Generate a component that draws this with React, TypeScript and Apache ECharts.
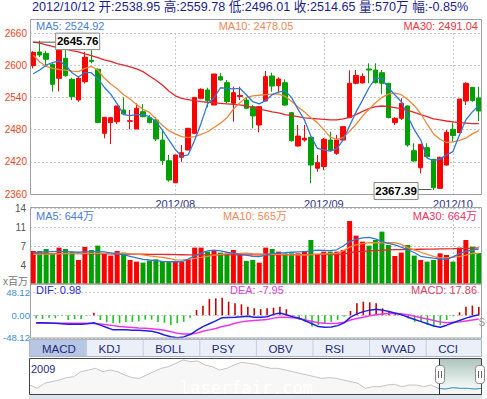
import React, { useEffect, useRef } from 'react';
import * as echarts from 'echarts';

// ---- categories (trading days) ----
const julDays = [2, 3, 4, 5, 6, 9, 10, 11, 12, 13, 16, 17, 18, 19, 20, 23, 24, 25, 26, 27, 30, 31];
const augDays = [1, 2, 3, 6, 7, 8, 9, 10, 13, 14, 15, 16, 17, 20, 21, 22, 23, 24, 27, 28, 29, 30, 31];
const sepDays = [3, 4, 5, 6, 7, 10, 11, 12, 13, 14, 17, 18, 19, 20, 21, 24, 25, 26, 27, 28];
const octDays = [8, 9, 10, 11, 12];

// ---- price (OHLC) ----
const opens = [
  2599.1, 2624.6, 2622.0, 2601.7, 2575.6, 2612.9, 2573.7, 2535.2, 2569.3, 2609.0,
  2592.4, 2473.1, 2493.0, 2494.7, 2516.5, 2495.5, 2481.1, 2513.4, 2502.2, 2497.9,
  2460.6, 2422.0, 2381.0, 2428.4, 2442.0, 2473.0, 2538.3, 2553.8, 2525.8, 2578.6,
  2567.4, 2529.0, 2541.8, 2535.0, 2522.7, 2488.6, 2533.3, 2579.9, 2561.8, 2567.4,
  2511.5, 2449.5, 2460.6, 2465.7, 2408.0, 2411.0, 2460.6, 2435.8, 2460.6, 2502.2,
  2566.3, 2567.0, 2593.0, 2591.0, 2586.0, 2566.3, 2493.0, 2501.1, 2524.0, 2440.7,
  2409.0, 2446.3, 2424.7, 2370.6, 2414.0, 2480.6, 2474.3, 2533.3, 2558.8, 2538.95,
];
const closes = [
  2624.0, 2619.0, 2611.0, 2564.4, 2628.3, 2580.4, 2541.3, 2575.6, 2614.7, 2607.0,
  2493.0, 2503.0, 2502.2, 2524.0, 2509.0, 2496.5, 2519.7, 2504.0, 2493.0, 2462.5,
  2422.0, 2386.0, 2432.7, 2437.0, 2482.4, 2540.0, 2555.0, 2534.0, 2583.6, 2572.4,
  2532.0, 2548.8, 2543.4, 2519.7, 2505.4, 2522.7, 2578.6, 2561.2, 2574.3, 2525.8,
  2459.4, 2468.0, 2463.8, 2414.0, 2418.4, 2462.0, 2442.0, 2460.6, 2485.5, 2566.3,
  2581.0, 2579.0, 2591.0, 2567.4, 2566.3, 2502.2, 2501.1, 2529.0, 2451.3, 2421.5,
  2452.6, 2429.5, 2371.8, 2428.4, 2475.0, 2468.7, 2537.0, 2566.3, 2534.0, 2514.65,
];
const lows = [
  2594.0, 2615.0, 2600.0, 2550.6, 2551.0, 2578.6, 2535.0, 2532.0, 2566.0, 2603.5,
  2492.0, 2463.8, 2453.0, 2490.4, 2507.0, 2480.6, 2481.1, 2503.0, 2491.7, 2458.7,
  2414.0, 2383.0, 2380.0, 2420.0, 2442.0, 2473.0, 2536.5, 2521.5, 2525.8, 2571.0,
  2529.0, 2494.7, 2535.0, 2518.0, 2482.4, 2475.0, 2533.3, 2550.6, 2547.6, 2524.0,
  2457.5, 2448.0, 2457.5, 2380.0, 2401.6, 2404.8, 2439.0, 2433.0, 2460.0, 2502.0,
  2564.4, 2566.0, 2566.3, 2566.0, 2546.0, 2501.0, 2488.6, 2497.9, 2448.0, 2420.0,
  2398.6, 2428.4, 2367.39, 2370.0, 2412.8, 2457.5, 2474.0, 2526.0, 2532.0, 2496.01,
];
const highs = [
  2626.0, 2645.76, 2627.0, 2603.5, 2630.0, 2634.0, 2576.7, 2578.6, 2625.0, 2628.0,
  2594.0, 2503.0, 2502.2, 2524.0, 2540.0, 2516.5, 2529.0, 2527.7, 2507.2, 2503.0,
  2478.0, 2432.7, 2432.7, 2451.3, 2482.4, 2540.0, 2557.0, 2558.0, 2583.6, 2585.0,
  2572.4, 2560.0, 2560.0, 2540.0, 2525.8, 2522.7, 2589.2, 2586.0, 2577.4, 2573.7,
  2512.8, 2488.6, 2488.6, 2466.8, 2432.7, 2464.4, 2476.0, 2470.0, 2485.5, 2590.5,
  2591.0, 2585.0, 2603.5, 2603.5, 2591.0, 2567.0, 2503.0, 2538.3, 2525.0, 2454.5,
  2453.0, 2454.5, 2425.0, 2429.5, 2479.3, 2493.0, 2537.0, 2568.0, 2559.0, 2559.78,
];

// ---- price moving averages ----
const ma5 = [
  2584, 2591, 2600, 2605, 2608, 2600, 2586, 2578, 2586, 2586,
  2575, 2559, 2546, 2528, 2508, 2506, 2508, 2508, 2504, 2495,
  2479, 2461, 2443, 2430, 2433, 2460, 2492, 2528, 2539, 2558,
  2557, 2556, 2557, 2545, 2532, 2528, 2534, 2545, 2550, 2552,
  2540, 2518, 2498, 2468, 2445, 2442, 2440, 2444, 2461, 2487,
  2513, 2535, 2558, 2576, 2575, 2558, 2545, 2532, 2505, 2480,
  2461, 2427, 2422, 2425, 2433, 2439, 2470, 2498, 2513, 2524.92,
];
const ma10 = [
  2619, 2606, 2598, 2594, 2592, 2591, 2589, 2588, 2594, 2598,
  2591, 2576, 2565, 2556, 2545, 2537, 2527, 2518, 2512, 2500,
  2488, 2478, 2472, 2467, 2465, 2467, 2471, 2476, 2484, 2492,
  2502, 2518, 2530, 2540, 2543, 2544, 2545, 2546, 2546, 2542,
  2533, 2522, 2513, 2502, 2493, 2480, 2466, 2462, 2465, 2477,
  2490, 2505, 2518, 2530, 2540, 2546, 2548, 2545, 2536, 2525,
  2510, 2490, 2472, 2462, 2456, 2457, 2460, 2464, 2472, 2478.05,
];
const ma30 = [
  2643, 2641, 2638, 2635, 2632, 2630, 2627, 2625, 2621, 2618,
  2614, 2610, 2607, 2603, 2600, 2597, 2593, 2588, 2580, 2572,
  2563, 2552, 2543, 2538, 2536, 2534, 2532, 2531, 2530, 2529,
  2528, 2527, 2526, 2524, 2521, 2518, 2516, 2513, 2511, 2508,
  2506, 2504, 2502, 2501, 2500, 2499, 2498, 2498, 2500, 2503,
  2508, 2514, 2519, 2523, 2524, 2523, 2521, 2519, 2516, 2512,
  2508, 2504, 2500, 2498, 2496, 2494.5, 2493, 2492, 2491, 2491.04,
];

// ---- volume (百万) ----
const volumes = [
  6.08, 6.08, 6.45, 5.53, 6.70, 6.45, 5.96, 4.43, 6.82, 6.27,
  7.07, 5.65, 5.23, 6.08, 5.78, 4.43, 4.12, 3.93, 4.30, 4.55,
  4.24, 4.24, 4.24, 4.12, 4.61, 6.70, 6.70, 5.96, 6.08, 5.78,
  5.47, 6.27, 5.47, 4.24, 4.43, 3.93, 6.70, 6.45, 5.96, 5.65,
  5.65, 5.65, 6.08, 8.11, 5.34, 5.96, 5.96, 5.96, 6.27, 11.61,
  8.91, 7.80, 7.07, 8.11, 9.65, 7.18, 5.16, 5.78, 7.18, 5.23,
  4.43, 4.12, 4.43, 5.65, 5.34, 4.12, 6.70, 8.11, 6.88, 5.70,
];
const volMa5 = [
  5.77, 5.85, 5.9, 5.95, 6.0, 5.95, 5.9, 5.85, 5.9, 5.95,
  5.95, 5.9, 5.75, 5.55, 5.4, 5.1, 4.8, 4.55, 4.42, 4.3,
  4.15, 4.1, 4.1, 4.1, 4.6, 5.2, 5.7, 6.1, 6.25, 6.1,
  5.85, 5.65, 5.47, 5.3, 5.1, 5.03, 5.3, 5.65, 5.7, 5.77,
  5.85, 5.9, 5.95, 6.1, 6.25, 6.2, 6.15, 6.3, 7.0, 7.8,
  8.2, 8.5, 8.6, 8.3, 7.8, 7.5, 7.2, 6.8, 6.3, 5.8,
  5.1, 4.9, 4.75, 4.65, 4.55, 5.0, 5.6, 6.0, 6.26, 6.44,
];
const volMa10 = [
  5.47, 5.5, 5.52, 5.55, 5.57, 5.6, 5.62, 5.63, 5.65, 5.65,
  5.65, 5.65, 5.65, 5.65, 5.65, 5.6, 5.5, 5.35, 5.2, 5.05,
  4.9, 4.7, 4.45, 4.4, 4.55, 4.73, 4.9, 5.1, 5.3, 5.45,
  5.6, 5.65, 5.65, 5.7, 5.6, 5.55, 5.5, 5.47, 5.45, 5.4,
  5.38, 5.36, 5.34, 5.4, 5.5, 5.55, 5.6, 5.65, 6.1, 6.8,
  7.2, 7.45, 7.6, 7.6, 7.6, 7.6, 7.6, 7.3, 6.7, 6.3,
  5.85, 5.45, 5.1, 4.8, 4.8, 4.95, 5.03, 5.3, 5.65, 5.65,
];
const volMa30 = [
  5.6, 5.6, 5.6, 5.6, 5.6, 5.6, 5.6, 5.58, 5.57, 5.56,
  5.55, 5.55, 5.54, 5.53, 5.52, 5.5, 5.49, 5.48, 5.47, 5.46,
  5.45, 5.43, 5.41, 5.39, 5.37, 5.36, 5.35, 5.35, 5.35, 5.35,
  5.35, 5.35, 5.35, 5.35, 5.35, 5.35, 5.36, 5.37, 5.38, 5.39,
  5.4, 5.41, 5.42, 5.43, 5.44, 5.45, 5.46, 5.47, 5.5, 5.75,
  5.95, 6.02, 6.1, 6.16, 6.22, 6.3, 6.32, 6.34, 6.36, 6.38,
  6.4, 6.42, 6.44, 6.46, 6.48, 6.5, 6.53, 6.57, 6.6, 6.64,
];

// ---- MACD ----
const macdHist = [
  -6.4, -7.8, -5, -6.4, -1, -10, -8, -8, -1, 5.5,
  -10, -15, -17, -17, -14, -14, -12.8, -9.2, -9.2, -14,
  -16, -20.6, -17, -14, -5, 11.4, 20.6, 34.6, 36, 37.5,
  29, 25.5, 23.4, 18.4, 15, 13, 15, 16.3, 18.4, 13,
  -2, -10, -14, -24, -20.6, -17, -14, -10, -3, 9.2,
  25.5, 29, 27.7, 25.5, 15, 7.8, 4.3, 0.5, -6.4, -14,
  -14, -20.6, -24, -20.6, -10, -2, 6.4, 18.4, 20.6, 17.86,
];
const dif = [
  -15.7, -16, -16.5, -17, -18, -19, -19, -19, -18, -16,
  -21, -26, -31, -31, -31, -32, -32, -33, -34, -37,
  -42, -45.5, -47.6, -46, -41, -32, -24, -18, -12, -5,
  -4.5, -4.3, -3, -2, -4.3, -4, -3, 2, 5, 1,
  -3, -6.4, -12, -18, -24, -25.5, -25, -22, -16, -4,
  3, 7.8, 11, 12.8, 11, 8, 4.3, 1, -4, -9,
  -13.5, -18, -22.7, -25.5, -21, -16, -11, -6, -2, 0.98,
];
const dea = [
  -17, -17, -17, -17, -17, -17, -17, -17, -17, -17.5,
  -18.6, -20, -22, -24, -25, -26, -27, -27.7, -28.5, -30,
  -32, -34.8, -38, -40, -40, -38, -34, -31, -28, -24,
  -21, -17, -14, -12, -11, -10, -9, -6, -4, -4,
  -5, -7, -10, -13, -16, -17, -17.5, -17, -15, -10,
  -7, -4, -1, 1, 3, 4, 4.3, 3, 1, -2,
  -5, -8, -11, -14, -16, -15, -14, -12, -10, -7.95,
];

// ---- navigator (2009 onwards) ----
const navValues = [
  2200, 2040, 2280, 2360, 2440, 2552, 2600, 2840, 2920, 3000,
  2840, 2920, 2840, 2680, 2552, 2520, 2680, 2840, 3000, 3080,
  3240, 3400, 3320, 3352, 3160, 3080, 2920, 3000, 3160, 3288,
  3240, 3192, 3080, 3000, 3000, 2920, 2840, 2760, 2680, 2600,
  2520, 2552, 2520, 2440, 2360, 2280, 2040, 2120, 2120, 2200,
  2232, 2120, 2200, 2200, 2120, 2200, 2040, 2008, 2072, 2040,
  2040, 2008, 2040,
];
const navStartLabel = '2009';
const navWindowStart = 56;

// ---- tick labels ----
const priceTicks = [2360, 2420, 2480, 2540, 2600, 2660];
const macdTicks = [-48.12, 0, 48.12];
const tabNames = ['MACD', 'KDJ', 'BOLL', 'PSY', 'OBV', 'RSI', 'WVAD', 'CCI'];
const changeText = '-0.85%';

const FONT = '"Liberation Sans", Arial, "Noto Sans CJK SC", sans-serif';
const UP = '#ff0000';
const DOWN = '#00a000';

const pad = (n: number) => (n < 10 ? '0' + n : '' + n);
const dates: string[] = [
  ...julDays.map((d) => `2012/07/${pad(d)}`),
  ...augDays.map((d) => `2012/08/${pad(d)}`),
  ...sepDays.map((d) => `2012/09/${pad(d)}`),
  ...octDays.map((d) => `2012/10/${pad(d)}`),
];
const monthStarts = dates
  .map((d, i) => (i > 0 && d.slice(0, 7) !== dates[i - 1].slice(0, 7) ? i : -1))
  .filter((i) => i >= 0);
const isMonthStart = (i: number) => monthStarts.indexOf(i) >= 0;

function txt(text: string, x: number, y: number, color: string, size: number, align = 'left', weight = 'normal', family = FONT) {
  return {
    type: 'text',
    x,
    y,
    silent: true,
    z: 100,
    style: {
      text,
      fill: color,
      fontSize: size,
      fontFamily: family,
      fontWeight: weight,
      textAlign: align,
      textVerticalAlign: 'middle',
      align,
      verticalAlign: 'middle',
    },
  };
}
function frame(x: number, y: number, w: number, h: number, stroke: string, fill = 'none', z = 50) {
  return { type: 'rect', silent: true, z, shape: { x, y, width: w, height: h }, style: { fill, stroke, lineWidth: 1 } };
}
function seg(x1: number, y1: number, x2: number, y2: number, stroke: string, z = 60) {
  return { type: 'line', silent: true, z, shape: { x1, y1, x2, y2 }, style: { stroke, lineWidth: 1 } };
}

function buildOption() {
  const lineS = (data: number[], color: string, x: number, width = 1.3) => ({
    type: 'line',
    xAxisIndex: x,
    yAxisIndex: x,
    data,
    symbol: 'none',
    showSymbol: false,
    silent: true,
    z: 5,
    lineStyle: { color, width },
    itemStyle: { color },
  });
  const catAxis = (grid: number, labels: boolean, split: boolean) => ({
    type: 'category',
    gridIndex: grid,
    data: dates,
    boundaryGap: true,
    axisLine: { show: false },
    axisTick: { show: false },
    axisLabel: {
      show: labels,
      interval: (i: number) => isMonthStart(i),
      formatter: (v: string) => v.slice(0, 7),
      color: '#2a358c',
      fontSize: 11,
      margin: 4,
      fontFamily: FONT,
    },
    splitLine: {
      show: split,
      interval: (i: number) => isMonthStart(i),
      alignWithLabel: true,
      lineStyle: { color: '#c9c9c9', type: [2, 2], width: 1 },
    },
  });
  return {
    animation: false,
    backgroundColor: '#ffffff',
    textStyle: { fontFamily: FONT },
    grid: [
      { left: 30, top: 33, width: 452, height: 161 },
      { left: 30, top: 208, width: 452, height: 76 },
      { left: 30, top: 292.7, width: 452, height: 45.2 },
      { left: 30, top: 358, width: 452, height: 36 },
    ],
    xAxis: [
      catAxis(0, true, true),
      catAxis(1, false, true),
      catAxis(2, false, false),
      {
        type: 'category',
        gridIndex: 3,
        data: navValues.map((_, i) => i),
        boundaryGap: false,
        show: false,
      },
    ],
    yAxis: [
      {
        type: 'value',
        gridIndex: 0,
        min: 2360,
        max: 2660,
        axisLine: { show: false },
        axisTick: { show: false, customValues: priceTicks },
        axisLabel: {
          customValues: priceTicks,
          color: '#ee4422',
          fontSize: 10,
          margin: 3,
          fontFamily: FONT,
          formatter: (v: number) => String(Math.round(v)),
        },
        splitLine: { show: true, lineStyle: { color: '#c9c9c9', type: [2, 2] } },
      },
      {
        type: 'value',
        gridIndex: 1,
        min: 0,
        max: 14,
        interval: 3.5,
        axisLine: { show: false },
        axisTick: { show: false },
        axisLabel: {
          color: '#555555',
          fontSize: 10,
          margin: 4,
          fontFamily: FONT,
          formatter: (v: number) => (v === 0 ? '' : String(Math.round(v))),
        },
        splitLine: { show: true, lineStyle: { color: '#c9c9c9', type: [2, 2] } },
      },
      {
        type: 'value',
        gridIndex: 2,
        min: macdTicks[0],
        max: macdTicks[2],
        interval: macdTicks[2],
        axisLine: { show: false },
        axisTick: { show: false },
        axisLabel: {
          color: '#3a8ed8',
          fontSize: 9.5,
          margin: 3,
          fontFamily: FONT,
          formatter: (v: number) => (Math.abs(v) < 1e-6 ? '0.00' : v.toFixed(2)),
        },
        splitLine: { show: true, lineStyle: { color: '#c9c9c9', type: [2, 2] } },
      },
      { type: 'value', gridIndex: 3, min: 1768, max: 3496, show: false, splitLine: { show: false } },
    ],
    series: [
      {
        type: 'candlestick',
        xAxisIndex: 0,
        yAxisIndex: 0,
        barWidth: 5,
        silent: true,
        z: 3,
        data: opens.map((o, i) => [o, closes[i], lows[i], highs[i]]),
        itemStyle: { color: UP, color0: DOWN, borderColor: UP, borderColor0: DOWN, borderWidth: 1 },
      },
      lineS(ma30, '#e8262a', 0),
      lineS(ma10, '#f0883c', 0),
      lineS(ma5, '#2f78d8', 0),
      {
        type: 'bar',
        xAxisIndex: 1,
        yAxisIndex: 1,
        barWidth: 5,
        silent: true,
        z: 3,
        data: volumes.map((v, i) => ({ value: v, itemStyle: { color: closes[i] >= opens[i] ? UP : DOWN } })),
      },
      lineS(volMa30, '#e8262a', 1),
      lineS(volMa10, '#f0883c', 1),
      lineS(volMa5, '#2f78d8', 1),
      {
        type: 'bar',
        xAxisIndex: 2,
        yAxisIndex: 2,
        barWidth: 1.6,
        silent: true,
        z: 3,
        data: macdHist.map((v) => ({ value: v, itemStyle: { color: v >= 0 ? '#c40000' : '#22c322' } })),
      },
      lineS(dea, '#ee33ee', 2, 1.5),
      lineS(dif, '#1f1fe6', 2, 1.5),
      {
        type: 'line',
        xAxisIndex: 3,
        yAxisIndex: 3,
        data: navValues,
        symbol: 'none',
        silent: true,
        lineStyle: { color: '#c4c4c4', width: 1 },
        areaStyle: { color: '#f3f3f3', origin: 'start' },
      },
      {
        type: 'line',
        xAxisIndex: 3,
        yAxisIndex: 3,
        data: navValues.map((v, i) => (i >= navWindowStart ? v : null)),
        symbol: 'none',
        silent: true,
        z: 6,
        lineStyle: { color: '#3f9ad0', width: 1 },
      },
    ],
  };
}

function buildGraphics(hp: number[], lp: number[]) {
  const L = dates.length - 1;
  const g: any[] = [];
  // title
  const title = `${dates[L]} 开:${opens[L].toFixed(2)} 高:${highs[L].toFixed(2)} 低:${lows[L].toFixed(2)} 收:${closes[L].toFixed(2)} 量:${Math.round(volumes[L] * 100)}万 幅:${changeText}`;
  g.push(txt(title, 32, 7, '#1d1d8a', 12.6));
  // main legend
  g.push(txt(`MA5: ${ma5[L].toFixed(2)}`, 36, 25.5, '#4a7ed9', 11));
  g.push(txt(`MA10: ${ma10[L].toFixed(2)}`, 256, 25.5, '#f08a5a', 11, 'center'));
  g.push(txt(`MA30: ${ma30[L].toFixed(2)}`, 478, 25.5, '#ee3344', 11, 'right'));
  // volume legend
  g.push(txt(`MA5: ${Math.round(volMa5[L] * 100)}万`, 36, 215.5, '#4a7ed9', 11));
  g.push(txt(`MA10: ${Math.round(volMa10[L] * 100)}万`, 255, 215.5, '#f08a5a', 11, 'center'));
  g.push(txt(`MA30: ${Math.round(volMa30[L] * 100)}万`, 477, 215.5, '#ee3366', 11, 'right'));
  // macd legend
  g.push(txt(`DIF: ${dif[L].toFixed(2)}`, 36, 290, '#2a2ae0', 11));
  g.push(txt(`DEA: ${dea[L].toFixed(2)}`, 230, 290, '#e040e0', 11));
  g.push(txt(`MACD: ${macdHist[L].toFixed(2)}`, 477, 290, '#d84466', 11, 'right'));
  g.push(txt('x百万', 3, 281.5, '#777777', 10));
  g.push(txt('S', 478.5, 322, '#9a9a9a', 10));
  // frames
  g.push(frame(30.5, 19.5, 451, 175, '#a0a0a0'));
  g.push(frame(30.5, 207.5, 451, 76.5, '#a0a0a0'));
  g.push(frame(30.5, 284, 451, 54, '#a0a0a0'));
  // tabs
  const tabX0 = 29.5;
  const tabW = 56.6;
  g.push(frame(tabX0, 339.5, 452, 17, '#aab4c8', '#eaeff8', 40));
  g.push({ type: 'rect', silent: true, z: 41, shape: { x: 30, y: 340, width: tabW, height: 16 }, style: { fill: '#b7c6e2' } });
  tabNames.forEach((name, i) => {
    const x = tabX0 + i * tabW;
    if (i > 0) g.push(seg(x + 0.5, 340, x + 0.5, 356, '#c4cde0', 42));
    g.push(txt(name, x + 12.5, 348.5, '#1f2a7a', 11.5));
  });
  // navigator
  g.push(frame(29.5, 358.5, 452, 36, '#444444', 'none', 60));
  g.push({
    type: 'rect',
    silent: true,
    z: 1,
    shape: { x: 439, y: 359, width: 42, height: 35 },
    style: {
      fill: new echarts.graphic.LinearGradient(0, 0, 0, 1, [
        { offset: 0, color: '#adc5bd' },
        { offset: 0.75, color: '#eef4f2' },
        { offset: 1, color: '#f6f9f8' },
      ]),
    },
  });
  g.push(seg(439.5, 358.5, 439.5, 394.5, '#333333', 61));
  g.push(seg(439.5, 394.5, 481.5, 394.5, '#333333', 61));
  [435, 475].forEach((hx) => {
    g.push({ type: 'rect', silent: true, z: 70, shape: { x: hx + 0.5, y: 365.5, width: 9, height: 18, r: 3 }, style: { fill: '#ffffff', stroke: '#888888', lineWidth: 1 } });
    g.push(seg(hx + 3.5, 371, hx + 3.5, 378, '#666666', 71));
    g.push(seg(hx + 6.5, 371, hx + 6.5, 378, '#666666', 71));
  });
  g.push(txt(navStartLabel, 31, 369, '#2a2a8a', 11));
  g.push(txt('laserfair.com', 180, 388, 'rgba(255,255,255,0.95)', 17, 'left', 'normal', '"DejaVu Sans Mono", monospace'));
  g.push({ type: 'rect', silent: true, z: 1, shape: { x: 29, y: 395, width: 453, height: 4 }, style: { fill: '#dde3ec' } });
  // max label
  const bw = 44;
  const bh = 16.5;
  const bx = hp[0] + 15.5;
  g.push(seg(hp[0] - 7, hp[1] + 1.5, bx, hp[1] + 1.5, '#555555', 80));
  g.push({ type: 'rect', silent: true, z: 81, shape: { x: bx + 0.5, y: hp[1] - 7.5, width: bw, height: bh }, style: { fill: '#ffffff', stroke: '#888888', lineWidth: 1 } });
  g.push({ ...txt(Math.max(...highs).toFixed(2), bx + 0.5 + bw / 2, hp[1] + 0.8, '#000000', 11.5, 'center', 'bold'), z: 82 });
  // min label
  const lx = lp[0] - 60;
  g.push(seg(lx + bw, lp[1] - 0.5, lp[0] - 2, lp[1] - 0.5, '#555555', 80));
  g.push({ type: 'rect', silent: true, z: 81, shape: { x: lx + 0.5, y: lp[1] - 7.5, width: bw, height: 17 }, style: { fill: '#ffffff', stroke: '#888888', lineWidth: 1 } });
  g.push({ ...txt(Math.min(...lows).toFixed(2), lx + 0.5 + bw / 2, lp[1] + 1.2, '#000000', 11.5, 'center', 'bold'), z: 82 });
  return g;
}

export default function App() {
  const ref = useRef<HTMLDivElement>(null);
  useEffect(() => {
    if (!ref.current) return;
    const chart = echarts.init(ref.current, null, { renderer: 'svg' });
    chart.setOption(buildOption() as any);
    const hiIdx = highs.indexOf(Math.max(...highs));
    const loIdx = lows.indexOf(Math.min(...lows));
    const hp = chart.convertToPixel({ gridIndex: 0 } as any, [hiIdx, highs[hiIdx]]) as number[];
    const lp = chart.convertToPixel({ gridIndex: 0 } as any, [loIdx, lows[loIdx]]) as number[];
    chart.setOption({ graphic: buildGraphics(hp, lp) } as any);
    return () => chart.dispose();
  }, []);
  return (
    <div
      ref={ref}
      style={{ position: 'absolute', left: 0, top: 0, width: 487, height: 399, background: '#fff' }}
    />
  );
}
